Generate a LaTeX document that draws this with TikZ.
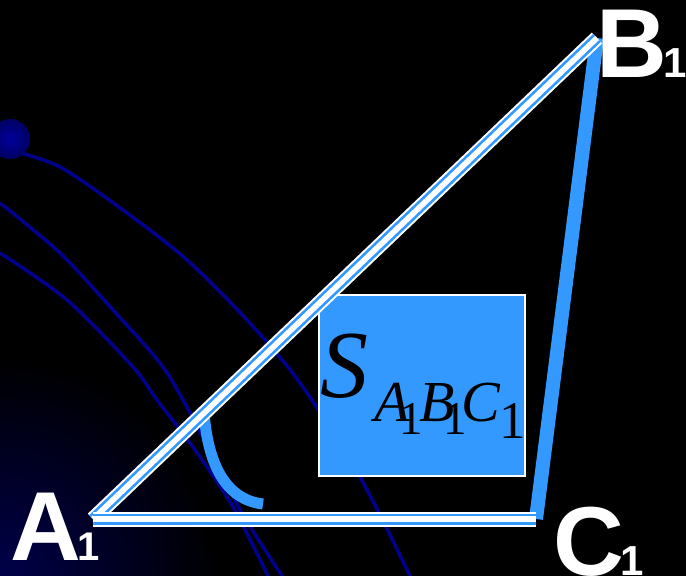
\documentclass[tikz,border=0pt]{standalone}
\usepackage{fontspec}
\usepackage{xcolor}
\usepackage{tikz}
\usetikzlibrary{positioning}
\newfontfamily\labelfont{Liberation Sans}
\newfontfamily\areafont{Liberation Serif}
\definecolor{sky}{HTML}{3399FF}
\definecolor{navy}{HTML}{00008C}
\definecolor{deepnavy}{HTML}{00004A}

\begin{document}
\begin{tikzpicture}[
  x=1pt, y=-1pt,
  vtx/.style    ={inner sep=0pt, anchor=base west, text=white, font=\labelfont\bfseries\fontsize{98}{98}\selectfont},
  tri/.style    ={draw=white, line width=15pt, postaction={draw=sky, line width=2.7pt, double=white, double distance=5.6pt}},
  side/.style   ={draw=sky, line width=14pt},
  angmark/.style={draw=sky, line width=11pt},
  trail/.style  ={draw=navy, line width=3.5pt},
  areabox/.style={draw=white, line width=2pt, fill=sky, minimum width=206pt, minimum height=181pt, anchor=north west},
  areatext/.style={inner sep=0pt, anchor=base west, text=black, font=\areafont},
]
  \useasboundingbox (0,0) rectangle (686,576);
  \begin{scope}
    \clip (0,0) rectangle (686,576);
    \fill[black] (0,0) rectangle (686,576);
    \shade[inner color=deepnavy, outer color=black] (0,576) circle (220pt);
    % trails
    \draw[trail] plot[smooth] coordinates {(9,150) (60,167) (127,213) (187,260) (247,320) (300,383) (360,477) (410,576)};
    \draw[trail] plot[smooth] coordinates {(0,203) (60,253) (113,310) (160,363) (183,400) (212,455) (243,515) (282,576)};
    \draw[trail] plot[smooth] coordinates {(0,253) (67,300) (133,367) (157,400) (193,447) (233,507) (268,576)};
    \shade[inner color=navy!85!blue, outer color=navy!70!black] (10,139) circle (20pt);
  \end{scope}

  \coordinate (A1) at (93,519);
  \coordinate (B1) at (597,38);
  \coordinate (C1) at (536,519);

  \draw[side] (B1) -- (C1);
  \draw[angmark] (204,412) .. controls (208,468) and (228,500) .. (263,504);

  \node[areabox] (area) at (318,294) {};
  \node[areatext] (sym) at (320,397) {{\itshape\fontsize{96}{96}\selectfont S}\hspace{6pt}\raisebox{-24pt}{\fontsize{58}{58}\selectfont\itshape A\hspace{-10pt}\raisebox{-13pt}{\upshape\fontsize{47}{47}\selectfont 1}\hspace{-4pt}B\hspace{-11pt}\raisebox{-13pt}{\upshape\fontsize{47}{47}\selectfont 1}\hspace{-6pt}C\raisebox{-17pt}{\upshape\fontsize{53}{53}\selectfont 1}}};

  \draw[tri] (A1) -- (B1);
  \draw[tri] (A1) -- (C1);

  \node[vtx] (labA) at (10,560)  {A\hspace{-3pt}{\fontsize{40}{40}\selectfont 1}};
  \node[vtx] (labB) at (596,77)  {B\hspace{-3pt}{\fontsize{42}{42}\selectfont 1}};
  \node[vtx] (labC) at (553,575) {C\hspace{-3pt}{\fontsize{42}{42}\selectfont 1}};
\end{tikzpicture}
\end{document}
